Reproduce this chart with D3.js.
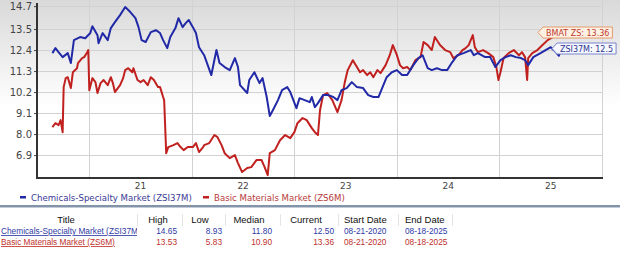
<html>
<head>
<script src="https://cdnjs.cloudflare.com/ajax/libs/d3/7.8.5/d3.min.js"></script>
<style>
  body { margin: 0; background: #fff; }
  svg text { font-family: 'DejaVu Sans', Verdana, sans-serif; }
  svg .tbl text { font-family: 'Liberation Sans', Arial, sans-serif; }
</style>
</head>
<body>
<div id="chart"></div>
<script>
// Chemicals-Specialty Market (ZSI37M), decimal year / value
var chemYears = [2020.64,2020.67,2020.70,2020.74,2020.79,2020.82,2020.85,2020.91,2020.96,2021.01,2021.03,2021.08,2021.09,2021.13,2021.18,2021.21,2021.25,2021.30,2021.35,2021.40,2021.45,2021.48,2021.51,2021.55,2021.60,2021.65,2021.69,2021.72,2021.76,2021.79,2021.84,2021.87,2021.91,2021.94,2021.97,2022.01,2022.04,2022.07,2022.12,2022.19,2022.24,2022.27,2022.32,2022.37,2022.42,2022.45,2022.47,2022.54,2022.56,2022.61,2022.66,2022.69,2022.73,2022.76,2022.79,2022.84,2022.88,2022.93,2022.96,2022.99,2023.02,2023.05,2023.10,2023.15,2023.17,2023.20,2023.23,2023.28,2023.33,2023.38,2023.42,2023.46,2023.51,2023.56,2023.61,2023.67,2023.72,2023.77,2023.82,2023.86,2023.90,2023.95,2024.00,2024.05,2024.10,2024.16,2024.21,2024.25,2024.30,2024.34,2024.39,2024.44,2024.49,2024.54,2024.59,2024.65,2024.72,2024.75,2024.79,2024.86,2024.91,2024.96,2025.01,2025.06,2025.11,2025.16,2025.21,2025.25,2025.28,2025.33,2025.40,2025.45,2025.50,2025.55,2025.58,2025.60];
var chemValues = [12.24,12.50,12.29,12.03,12.24,11.72,12.92,13.08,13.02,13.29,13.65,13.18,12.76,13.29,12.92,13.55,13.86,14.23,14.65,14.39,14.07,13.60,12.92,12.82,13.34,13.44,13.29,12.92,12.50,13.08,13.55,14.07,13.60,13.81,13.97,13.60,13.29,12.55,12.13,11.09,12.40,11.72,11.51,11.35,11.98,11.51,10.56,10.15,10.83,11.24,10.67,10.93,9.94,8.95,9.25,9.78,10.30,10.46,10.20,9.78,9.36,9.88,9.78,9.67,9.94,9.41,9.62,10.04,10.04,9.94,9.78,10.30,10.41,10.72,10.46,10.41,10.04,9.94,9.94,10.46,10.98,11.24,11.35,11.09,11.09,11.61,11.98,12.13,11.45,11.35,11.45,11.35,11.35,11.77,12.13,12.24,12.40,12.13,12.24,12.03,12.03,11.51,11.87,12.03,12.13,12.03,11.98,11.87,11.61,12.03,12.24,12.40,12.55,12.29,12.10,12.50];

// Basic Materials Market (ZS6M)
var basicYears = [2020.64,2020.67,2020.70,2020.72,2020.74,2020.75,2020.77,2020.79,2020.82,2020.84,2020.88,2020.89,2020.93,2020.95,2020.98,2020.99,2021.00,2021.03,2021.06,2021.08,2021.11,2021.14,2021.18,2021.21,2021.23,2021.25,2021.30,2021.33,2021.35,2021.38,2021.42,2021.43,2021.47,2021.50,2021.53,2021.57,2021.60,2021.63,2021.67,2021.69,2021.72,2021.73,2021.75,2021.77,2021.82,2021.86,2021.89,2021.92,2021.96,2022.01,2022.04,2022.07,2022.11,2022.12,2022.17,2022.22,2022.25,2022.29,2022.32,2022.37,2022.42,2022.45,2022.49,2022.54,2022.58,2022.63,2022.68,2022.71,2022.74,2022.76,2022.81,2022.86,2022.91,2022.96,2023.00,2023.03,2023.08,2023.12,2023.17,2023.20,2023.23,2023.25,2023.28,2023.32,2023.37,2023.42,2023.46,2023.49,2023.52,2023.57,2023.61,2023.64,2023.67,2023.71,2023.74,2023.77,2023.81,2023.84,2023.89,2023.93,2023.96,2024.00,2024.03,2024.06,2024.10,2024.13,2024.18,2024.23,2024.26,2024.30,2024.34,2024.37,2024.42,2024.47,2024.52,2024.55,2024.60,2024.64,2024.67,2024.70,2024.74,2024.76,2024.79,2024.84,2024.89,2024.94,2024.97,2024.99,2025.01,2025.04,2025.09,2025.14,2025.19,2025.22,2025.25,2025.27,2025.28,2025.32,2025.37,2025.42,2025.47,2025.52,2025.55,2025.57,2025.60];
var basicValues = [8.36,8.57,8.47,8.73,8.10,10.46,10.93,10.98,10.41,11.24,11.45,11.72,11.98,12.03,12.29,12.40,10.30,10.93,10.72,10.15,10.67,10.83,10.56,10.98,10.67,10.20,10.56,10.93,11.35,11.45,11.24,11.45,10.83,10.72,10.83,10.56,10.98,10.83,10.46,10.46,9.94,9.78,7.00,7.32,7.42,7.53,7.32,7.16,7.32,7.32,7.53,7.06,7.32,7.42,7.53,7.95,7.84,7.42,7.00,6.74,6.90,6.48,6.01,6.22,6.27,6.64,6.64,6.27,5.85,7.00,7.16,7.68,7.95,7.79,8.10,8.57,8.84,8.73,8.31,8.10,7.95,9.25,10.04,10.15,9.78,9.15,9.78,10.67,11.35,11.87,11.51,11.24,11.35,11.09,11.24,10.98,11.35,11.19,11.61,12.13,12.66,12.13,11.61,11.45,11.51,11.35,11.87,12.03,12.82,12.66,12.40,13.08,12.66,12.40,12.29,11.98,12.13,12.40,12.50,12.66,13.18,12.55,12.29,12.40,12.24,12.03,11.51,10.83,11.24,11.98,12.24,12.40,12.13,12.29,12.03,10.83,11.98,12.24,12.40,12.66,12.92,13.08,13.50,13.29,13.36];

var yTicks = [6.9, 8.0, 9.1, 10.2, 11.3, 12.4, 13.5, 14.7];
var xYears = [2021, 2022, 2023, 2024, 2025];
var xLabels = ['21', '22', '23', '24', '25'];

var seriesNames = ['Chemicals-Specialty Market (ZSI37M)', 'Basic Materials Market (ZS6M)'];
var tagLabels = ['ZSI37M', 'BMAT ZS'];
var currentValues = ['12.5', '13.36'];

var tableHeaders = ['Title', 'High', 'Low', 'Median', 'Current', 'Start Date', 'End Date'];
var tableRows = [
  ['Chemicals-Specialty Market (ZSI37M)', '14.65', '8.93', '11.80', '12.50', '08-21-2020', '08-18-2025'],
  ['Basic Materials Market (ZS6M)', '13.53', '5.83', '10.90', '13.36', '08-21-2020', '08-18-2025']
];

var BLUE = '#2129a6', RED = '#c0211f';
var W = 620, H = 254;
var LEFT = 37, RIGHT = 602, TOP = 0, BOTTOM = 178;

var svg = d3.select('#chart').append('svg').attr('width', W).attr('height', H);

var defs = svg.append('defs');
var grad = defs.append('linearGradient').attr('id', 'bg').attr('x1', 0).attr('y1', 0).attr('x2', 0).attr('y2', 1);
grad.append('stop').attr('offset', '0%').attr('stop-color', '#d9d9d9');
grad.append('stop').attr('offset', '60%').attr('stop-color', '#ffffff');
defs.append('clipPath').attr('id', 'titleclip').append('rect')
    .attr('x', 0).attr('y', 200).attr('width', 137).attr('height', 54);

svg.append('rect').attr('x', 0).attr('y', 0).attr('width', W).attr('height', BOTTOM)
    .attr('fill', 'url(#bg)');

var x = d3.scaleLinear().domain([2020.49, 2026.0]).range([LEFT, RIGHT]);
var y = d3.scaleLinear().domain([5.7, 15.0]).range([BOTTOM, 0.4]);

// grid
svg.selectAll('line.hgrid').data(yTicks).enter().append('line')
    .attr('x1', LEFT).attr('x2', RIGHT)
    .attr('y1', function(d){ return Math.round(y(d)) + 0.5; })
    .attr('y2', function(d){ return Math.round(y(d)) + 0.5; })
    .attr('stroke', '#d2d2d2');
svg.selectAll('line.vgrid').data(xYears.concat([2026])).enter().append('line')
    .attr('x1', function(d){ return Math.round(x(d)) + 0.5; })
    .attr('x2', function(d){ return Math.round(x(d)) + 0.5; })
    .attr('y1', TOP).attr('y2', BOTTOM)
    .attr('stroke', '#d2d2d2');

// y axis
var yAxis = d3.axisLeft(y).tickValues(yTicks).tickSize(3).tickPadding(2)
    .tickFormat(d3.format('.1f'));
var ya = svg.append('g').attr('transform', 'translate(' + LEFT + ',0)').call(yAxis);
ya.select('.domain').remove();
ya.selectAll('line').attr('stroke', '#444');
ya.selectAll('text').attr('font-size', 10).attr('fill', '#444')
    .attr('font-family', "'DejaVu Sans', Verdana, sans-serif");
svg.append('line').attr('x1', LEFT).attr('x2', LEFT).attr('y1', 3).attr('y2', BOTTOM + 1)
    .attr('stroke', '#333').attr('stroke-width', 2);
svg.append('line').attr('x1', LEFT - 1).attr('x2', RIGHT + 1).attr('y1', BOTTOM).attr('y2', BOTTOM)
    .attr('stroke', '#333').attr('stroke-width', 2);

// x labels at mid-year
svg.selectAll('text.xl').data(xYears).enter().append('text')
    .attr('x', function(d){ return x(d + 0.5); })
    .attr('y', 189)
    .attr('text-anchor', 'middle')
    .attr('font-size', 9).attr('fill', '#444')
    .text(function(d, i){ return xLabels[i]; });

// lines
var line = d3.line().x(function(d){ return x(d[0]); }).y(function(d){ return y(d[1]); });
var chemPts = d3.zip(chemYears, chemValues);
var basicPts = d3.zip(basicYears, basicValues);
svg.append('path').datum(basicPts).attr('d', line).attr('fill', 'none')
    .attr('stroke', RED).attr('stroke-width', 2).attr('stroke-linejoin', 'round');
svg.append('path').datum(chemPts).attr('d', line).attr('fill', 'none')
    .attr('stroke', BLUE).attr('stroke-width', 2).attr('stroke-linejoin', 'round');

// end tags
function tag(tipX, val, label, stroke, fill, color) {
  var cy = Math.round(y(+val)) + 0.5;
  var g = svg.append('g');
  var t = g.append('text').attr('x', tipX + 8).attr('y', cy + 3)
      .attr('font-size', 8).attr('fill', color).text(label + ': ' + val);
  var w = t.node().getComputedTextLength();
  var x0 = tipX, x1 = tipX + 5, x2 = tipX + 8 + w + 3, h = 5.5;
  g.insert('path', 'text').attr('d',
      'M' + x0 + ',' + cy + 'L' + x1 + ',' + (cy - h) + 'L' + x2 + ',' + (cy - h) +
      'L' + x2 + ',' + (cy + h) + 'L' + x1 + ',' + (cy + h) + 'Z')
      .attr('fill', fill).attr('stroke', stroke).attr('stroke-width', 1);
}
tag(538, currentValues[1], tagLabels[1], '#e49a6c', '#fdf1e4', '#c0392b');
tag(552, currentValues[0], tagLabels[0], '#7a86c8', '#f6f7ff', '#2d3592');

// legend
var legX = [20, 203];
var legColors = ['#3b3b96', '#b83a3a'];
seriesNames.forEach(function(n, i){
  svg.append('rect').attr('x', legX[i]).attr('y', 196).attr('width', 6).attr('height', 2.5)
      .attr('fill', [BLUE, RED][i]);
  svg.append('text').attr('x', legX[i] + 11).attr('y', 200.5)
      .attr('font-size', 8.6).attr('fill', legColors[i]).text(n);
});

// separator
svg.append('rect').attr('x', 0).attr('y', 205).attr('width', W).attr('height', 2).attr('fill', '#8393a8');
svg.append('rect').attr('x', 0).attr('y', 207).attr('width', W).attr('height', 1).attr('fill', '#c3ccd8');

// table
var hdrX = [66, 158, 200, 249, 306, 344, 405];
var hdrAnchor = ['middle', 'middle', 'middle', 'middle', 'middle', 'start', 'start'];
var cellX = [1, 177, 222, 272, 334, 344, 405];
var cellAnchor = ['start', 'end', 'end', 'end', 'end', 'start', 'start'];
var rowColors = ['#2e3aa6', '#c0302c'];
var tbl = svg.append('g').attr('class', 'tbl');
[137, 182, 225, 280, 338, 398, 452].forEach(function(sx){
  tbl.append('line').attr('x1', sx + 0.5).attr('x2', sx + 0.5).attr('y1', 214).attr('y2', 226)
      .attr('stroke', '#e4e4e4');
});
tbl.selectAll('text.h').data(tableHeaders).enter().append('text')
    .attr('x', function(d, i){ return hdrX[i]; }).attr('y', 223)
    .attr('text-anchor', function(d, i){ return hdrAnchor[i]; })
    .attr('font-size', 9.5).attr('fill', '#111').text(function(d){ return d; });
tableRows.forEach(function(row, r){
  var yy = 234 + r * 11;
  row.forEach(function(cell, c){
    var t = tbl.append('text').attr('x', cellX[c]).attr('y', yy)
        .attr('text-anchor', cellAnchor[c])
        .attr('font-size', 8.3).attr('fill', rowColors[r]).text(cell);
    if (c === 0) t.attr('clip-path', 'url(#titleclip)').style('text-decoration', 'underline');
  });
});
</script>
</body>
</html>
